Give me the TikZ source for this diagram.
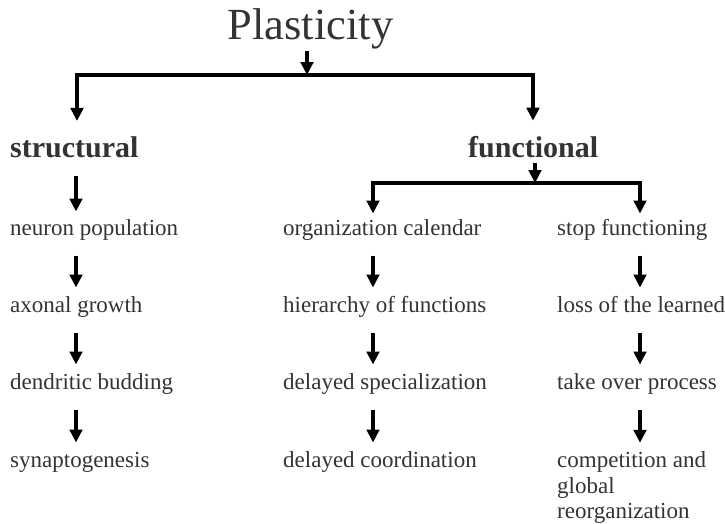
\documentclass[tikz,border=0pt]{standalone}
\usepackage{fontspec}
\setmainfont{Liberation Serif}
\usetikzlibrary{arrows.meta,calc}
\definecolor{txt}{HTML}{333333}
\begin{document}
\begin{tikzpicture}[x=1pt,y=-1pt,
  lbl/.style={anchor=base west, inner sep=0pt, text=txt, font=\fontsize{23}{25.5}\selectfont},
  headtxt/.style={anchor=base west, inner sep=0pt, text=txt, font=\fontsize{30}{32}\selectfont\bfseries},
  arr/.style={line width=4.2pt, -{Triangle[length=13pt,width=12.5pt]}},
  bar/.style={line width=4.2pt, line cap=rect}]
\useasboundingbox (0,0) rectangle (725,523);
\node[anchor=base, inner sep=0pt, text=txt, font=\fontsize{44.5}{46}\selectfont] (plast) at (310.5,39) {Plasticity};
\node[headtxt] (struct) at (10,157) {structural};
\node[headtxt] (func) at (468,157) {functional};

\coordinate (colL) at (76,0);
\coordinate (colM) at (373,0);
\coordinate (colR) at (640,0);
\coordinate (topJ) at (307,75);
\coordinate (topL) at (77,75);
\coordinate (topR) at (533,75);
\coordinate (funJ) at (535,183);
\coordinate (funL) at (373,183);
\coordinate (funR) at (640,183);

% rows
\node[lbl] (a1) at (10,235.5) {neuron population};
\node[lbl] (a2) at (10,312.5) {axonal growth};
\node[lbl] (a3) at (10,389.5) {dendritic budding};
\node[lbl] (a4) at (10,467.5) {synaptogenesis};
\node[lbl] (b1) at (283,235.5) {organization calendar};
\node[lbl] (b2) at (283,312.5) {hierarchy of functions};
\node[lbl] (b3) at (283,389.5) {delayed specialization};
\node[lbl] (b4) at (283,467.5) {delayed coordination};
\node[lbl] (c1) at (557,235.5) {stop functioning};
\node[lbl] (c2) at (557,312.5) {loss of the learned};
\node[lbl] (c3) at (557,389.5) {take over process};
\node[lbl, anchor=north west, align=left] (c4) at (557,451.8) {competition and\\global\\reorganization};

% top structure
\draw[arr] ($(plast.south -| topJ)+(0,2)$) -- (topJ);
\draw[bar] (topL) -- (topR);
\draw[arr] (topL) -- ($(struct.north -| topL)+(0,-15)$);
\draw[arr] (topR) -- ($(func.north -| topR)+(0,-15)$);

% functional split
\draw[arr] ($(func.base -| funJ)+(0,6)$) -- (funJ);
\draw[bar] (funL) -- (funR);
\draw[arr] (funL) -- ($(b1.base -| colM)+(0,-22)$);
\draw[arr] (funR) -- ($(c1.base -| colR)+(0,-22)$);

% structural chain
\draw[arr] ($(struct.base -| colL)+(0,19)$) -- ($(a1.base -| colL)+(0,-24)$);
\draw[arr] ($(a1.base -| colL)+(0,20)$) -- ($(a2.base -| colL)+(0,-25)$);
\draw[arr] ($(a2.base -| colL)+(0,20)$) -- ($(a3.base -| colL)+(0,-25)$);
\draw[arr] ($(a3.base -| colL)+(0,20)$) -- ($(a4.base -| colL)+(0,-25)$);

% middle chain
\draw[arr] ($(b1.base -| colM)+(0,20)$) -- ($(b2.base -| colM)+(0,-25)$);
\draw[arr] ($(b2.base -| colM)+(0,20)$) -- ($(b3.base -| colM)+(0,-25)$);
\draw[arr] ($(b3.base -| colM)+(0,20)$) -- ($(b4.base -| colM)+(0,-25)$);

% right chain
\draw[arr] ($(c1.base -| colR)+(0,20)$) -- ($(c2.base -| colR)+(0,-25)$);
\draw[arr] ($(c2.base -| colR)+(0,20)$) -- ($(c3.base -| colR)+(0,-25)$);
\draw[arr] ($(c3.base -| colR)+(0,20)$) -- ($(c4.north -| colR)+(0,-9)$);
\end{tikzpicture}
\end{document}
